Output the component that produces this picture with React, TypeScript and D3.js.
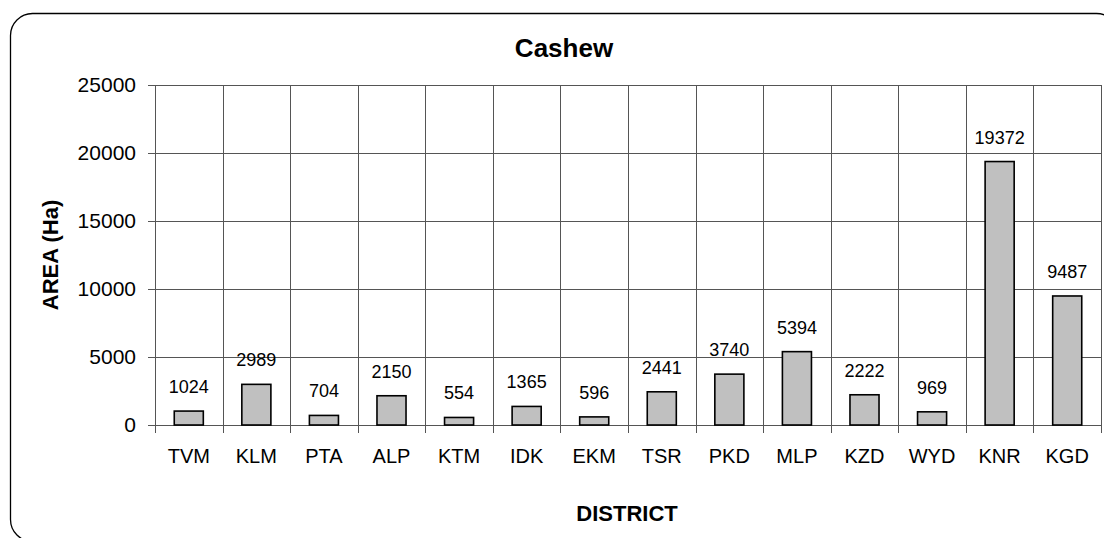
import React, { useRef, useEffect } from 'react';
import * as d3 from 'd3';

const districts = ['TVM', 'KLM', 'PTA', 'ALP', 'KTM', 'IDK', 'EKM', 'TSR', 'PKD', 'MLP', 'KZD', 'WYD', 'KNR', 'KGD'];
const areas = [1024, 2989, 704, 2150, 554, 1365, 596, 2441, 3740, 5394, 2222, 969, 19372, 9487];
const yTicks = [0, 5000, 10000, 15000, 20000, 25000];

const FONT = 'Liberation Sans, Arial, sans-serif';

const App = () => {
  const ref = useRef<SVGSVGElement>(null);

  useEffect(() => {
    const width = 1104;
    const height = 538;
    const margin = { top: 85, left: 155, bottom: 113, right: 3 };
    const iwidth = width - margin.left - margin.right;
    const iheight = height - margin.top - margin.bottom;

    const svg = d3.select(ref.current);
    svg.selectAll('*').remove();

    // outer rounded frame, runs off the right and bottom edges
    svg.append('rect')
      .attr('x', 10.5).attr('y', 13.5)
      .attr('width', 1108).attr('height', 528)
      .attr('rx', 22).attr('ry', 22)
      .attr('fill', 'none').attr('stroke', '#000').attr('stroke-width', 1.3);

    svg.append('text')
      .attr('x', 564).attr('y', 57)
      .attr('text-anchor', 'middle')
      .attr('font-family', FONT).attr('font-weight', 'bold').attr('font-size', 26)
      .text('Cashew');

    const g = svg.append('g').attr('transform', `translate(${margin.left},${margin.top})`);

    const x = d3.scaleBand().domain(districts).range([0, iwidth]).padding(0);
    const y = d3.scaleLinear().domain([0, 25000]).range([iheight, 0]);

    // horizontal grid
    g.append('g').selectAll('line').data(yTicks).join('line')
      .attr('x1', 0).attr('x2', iwidth)
      .attr('y1', d => Math.round(y(d)) + 0.5).attr('y2', d => Math.round(y(d)) + 0.5)
      .attr('stroke', '#555').attr('stroke-width', 1);

    // vertical grid at category boundaries
    const bounds = districts.map(d => x(d)!).concat([iwidth]);
    g.append('g').selectAll('line').data(bounds).join('line')
      .attr('x1', d => Math.round(d) + 0.5).attr('x2', d => Math.round(d) + 0.5)
      .attr('y1', 0).attr('y2', iheight + 8)
      .attr('stroke', '#555').attr('stroke-width', 1);

    // y ticks
    g.append('g').selectAll('line').data(yTicks).join('line')
      .attr('x1', -7).attr('x2', 0)
      .attr('y1', d => Math.round(y(d)) + 0.5).attr('y2', d => Math.round(y(d)) + 0.5)
      .attr('stroke', '#555');

    g.append('g').selectAll('text').data(yTicks).join('text')
      .attr('x', -19).attr('y', d => y(d))
      .attr('dy', '0.35em')
      .attr('text-anchor', 'end')
      .attr('font-family', FONT).attr('font-size', 21)
      .text(d => String(d));

    const bw = x.bandwidth() * 0.43;

    g.append('g').selectAll('rect').data(areas).join('rect')
      .attr('x', (d, i) => x(districts[i])! + (x.bandwidth() - bw) / 2)
      .attr('y', d => y(d))
      .attr('width', bw)
      .attr('height', d => iheight - y(d))
      .attr('fill', '#c0c0c0').attr('stroke', '#000').attr('stroke-width', 1.6);

    g.append('g').selectAll('text').data(areas).join('text')
      .attr('x', (d, i) => x(districts[i])! + x.bandwidth() / 2)
      .attr('y', d => y(d) - 18)
      .attr('text-anchor', 'middle')
      .attr('font-family', FONT).attr('font-size', 18)
      .text(d => String(d));

    g.append('g').selectAll('text').data(districts).join('text')
      .attr('x', d => x(d)! + x.bandwidth() / 2)
      .attr('y', iheight + 38)
      .attr('text-anchor', 'middle')
      .attr('font-family', FONT).attr('font-size', 20)
      .text(d => d);

    svg.append('text')
      .attr('x', 627).attr('y', 521)
      .attr('text-anchor', 'middle')
      .attr('font-family', FONT).attr('font-weight', 'bold').attr('font-size', 22)
      .text('DISTRICT');

    svg.append('text')
      .attr('transform', `translate(58,${margin.top + iheight / 2}) rotate(-90)`)
      .attr('text-anchor', 'middle')
      .attr('font-family', FONT).attr('font-weight', 'bold').attr('font-size', 22)
      .text('AREA (Ha)');
  });

  return (
    <svg ref={ref} width={1104} height={538} style={{ position: 'absolute', left: 0, top: 0, background: '#fff' }} />
  );
};

export default App;
